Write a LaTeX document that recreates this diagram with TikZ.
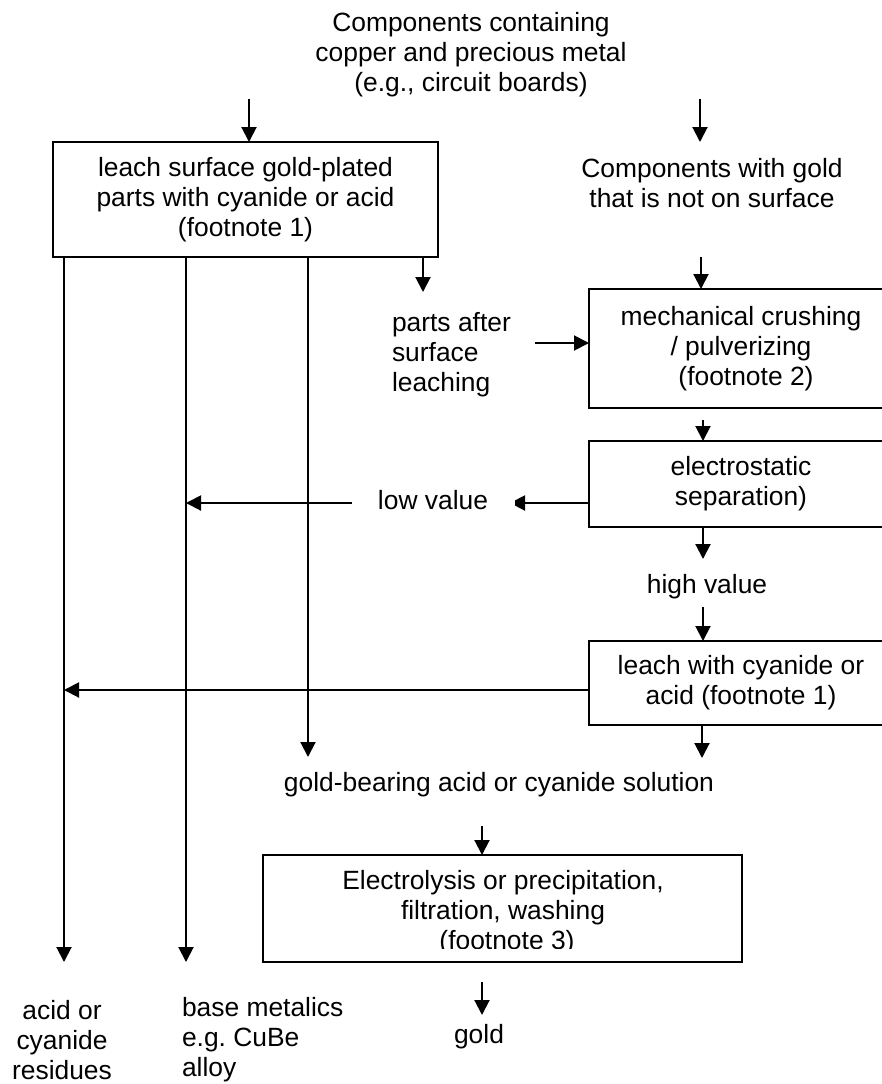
\documentclass[tikz,border=0pt]{standalone}
\usepackage{fontspec}
\setmainfont{Liberation Sans}
\usetikzlibrary{arrows.meta}
\frenchspacing
\begin{document}
\begin{tikzpicture}[x=0.5pt,y=-0.5pt,
  every node/.style={font=\fontsize{13.2pt}{15pt}\selectfont, inner sep=0pt, outer sep=0pt},
  txt/.style={align=center},
  ltxt/.style={align=left, anchor=west},
  box/.style={draw, line width=1pt, align=center},
  arr/.style={line width=1pt, -{Triangle[length=7.5pt,width=7.5pt]}},
  ln/.style={line width=1pt}]
\clip (0,0) rectangle (882,1084);
\fill[white] (0,0) rectangle (882,1084);

% text nodes
\node[txt] (top) at (471,55) {Components containing\\copper and precious metal\\(e.g., circuit boards)};
\node[txt] (rt) at (712,183) {Components with gold\\that is not on surface};
\node[ltxt] (parts) at (392,355) {parts after\\surface\\leaching};
\node[txt] (low) at (433,500) {low value};
\node[txt] (high) at (707,587) {high value};
\node[txt] (gb) at (499,785) {gold-bearing acid or cyanide solution};
\node[txt] (res) at (62,1040) {acid or\\cyanide\\residues};
\node[ltxt] (base) at (182,1040) {base metalics\\e.g. CuBe\\alloy};
\node[txt] (gold) at (479,1037) {gold};

% boxes
\node[box, minimum width=192.5pt, minimum height=57.5pt] (b1) at (245.5,199.5) {leach surface gold-plated\\parts with cyanide or acid\\(footnote 1)};
\node[box, minimum width=152pt, minimum height=59.5pt] (b2) at (741,348.5) {mechanical crushing\\/ pulverizing\\\hspace*{5pt}(footnote 2)};
\node[box, minimum width=152pt, minimum height=43pt] (b3) at (741,484) {electrostatic\\separation)};
\node[box, minimum width=152pt, minimum height=42pt] (b4) at (741,683) {leach with cyanide or\\acid (footnote 1)};
\node[box, minimum width=239.5pt, minimum height=53.5pt] (b5) at (502.5,908.5) {};
\begin{scope}
  \clip (263,855) rectangle (742,948);
  \node[txt] (b5t) at (503,913) {Electrolysis or precipitation,\\filtration, washing\\\hspace*{4pt}(footnote 3)};
\end{scope}

% connectors
\coordinate (a1s) at (249,99);
\draw[arr] (a1s) -- (a1s |- b1.north);
\coordinate (a2s) at (700,99);
\coordinate (a2e) at (700,142);
\draw[arr] (a2s) -- (a2e);
\coordinate (a3s) at (701,257);
\draw[arr] (a3s) -- (a3s |- b2.north);
\coordinate (p1) at (423,292);
\draw[arr] (p1 |- b1.south) -- (p1);
\coordinate (p2) at (535,343);
\draw[arr] (p2) -- (p2 -| b2.west);
\coordinate (a4s) at (703,420);
\draw[arr] (a4s) -- (a4s |- b3.north);
\coordinate (a5e) at (703,559);
\draw[arr] (a5e |- b3.south) -- (a5e);
\coordinate (a6s) at (703,607);
\draw[arr] (a6s) -- (a6s |- b4.north);
\coordinate (a7e) at (702,758);
\draw[arr] (a7e |- b4.south) -- (a7e);

\coordinate (l1e) at (64,962);
\coordinate (l2e) at (186,962);
\coordinate (l3e) at (308,757);
\draw[arr] (l1e |- b1.south) -- (l1e);
\draw[arr] (l2e |- b1.south) -- (l2e);
\draw[arr] (l3e |- b1.south) -- (l3e);

\coordinate (h1e) at (64,690);
\draw[arr] (h1e -| b4.west) -- (h1e);

\coordinate (lv1) at (510,503);
\begin{scope}
  \clip (515,490) rectangle (600,516);
  \draw[arr] (lv1 -| b3.west) -- (lv1);
\end{scope}
\coordinate (lv2s) at (352,503);
\coordinate (lv2e) at (186,503);
\draw[arr] (lv2s) -- (lv2e);

\coordinate (a8s) at (482,826);
\draw[arr] (a8s) -- (a8s |- b5.north);
\coordinate (a9s) at (482,982);
\coordinate (a9e) at (482,1015);
\draw[arr] (a9s) -- (a9e);
\end{tikzpicture}
\end{document}
